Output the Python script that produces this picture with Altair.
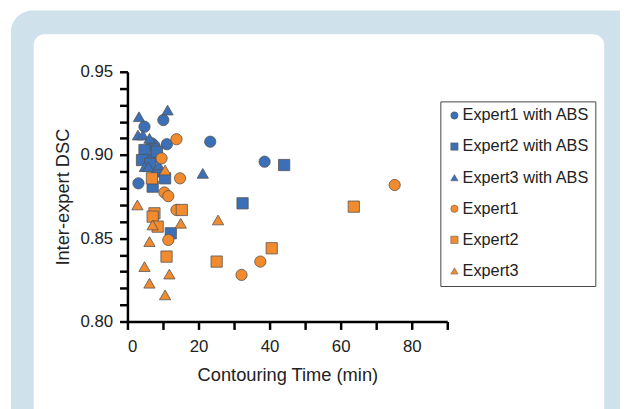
import altair as alt
import pandas as pd

series_names = ["Expert1 with ABS", "Expert2 with ABS", "Expert3 with ABS",
                "Expert1", "Expert2", "Expert3"]
series_colors = ["#3b6fb6", "#3b6fb6", "#3b6fb6", "#f28a2e", "#f28a2e", "#f28a2e"]
series_shapes = ["circle", "square", "triangle-up", "circle", "square", "triangle-up"]

e1abs_time = [23.3, 38.6, 10.1, 4.8, 6.9, 7.6, 7.9, 11.1, 7.1, 8.3, 3.1]
e1abs_dsc = [0.908, 0.896, 0.921, 0.917, 0.907, 0.9055, 0.9035, 0.9065, 0.898, 0.890, 0.883]
e2abs_time = [44.1, 32.4, 4.8, 8.3, 4.1, 6.4, 10.6, 7.1, 12.2]
e2abs_dsc = [0.894, 0.871, 0.903, 0.902, 0.897, 0.8947, 0.886, 0.881, 0.853]
e3abs_time = [11.3, 3.25, 2.96, 4.36, 6.2, 21.2, 4.9, 5.9, 8.8]
e3abs_dsc = [0.927, 0.923, 0.912, 0.912, 0.910, 0.889, 0.893, 0.893, 0.894]
e1_time = [75.2, 37.4, 32.1, 13.8, 9.6, 14.8, 10.4, 11.5, 13.8, 11.5]
e1_dsc = [0.882, 0.836, 0.828, 0.9095, 0.898, 0.886, 0.8775, 0.8753, 0.867, 0.849]
e2_time = [63.7, 40.6, 25.1, 6.9, 7.6, 7.1, 15.3, 8.5, 11.0]
e2_dsc = [0.869, 0.844, 0.836, 0.886, 0.865, 0.863, 0.867, 0.857, 0.839]
e3_time = [25.5, 2.8, 10.6, 7.1, 15.0, 6.2, 4.8, 11.8, 6.2, 10.6]
e3_dsc = [0.861, 0.870, 0.891, 0.858, 0.859, 0.848, 0.833, 0.8285, 0.823, 0.816]

x_ticks = [0, 10, 20, 30, 40, 50, 60, 70, 80, 90]
y_ticks = [round(0.80 + 0.01 * i, 2) for i in range(16)]

all_series = [
    (e1abs_time, e1abs_dsc), (e2abs_time, e2abs_dsc), (e3abs_time, e3abs_dsc),
    (e1_time, e1_dsc), (e2_time, e2_dsc), (e3_time, e3_dsc),
]
rows = []
for name, (ts, ds) in zip(series_names, all_series):
    for t, d in zip(ts, ds):
        rows.append({"series": name, "time": t, "dsc": d})
df = pd.DataFrame(rows)

FONT = "Liberation Sans"
one = pd.DataFrame({"a": [0]})

outer = alt.Chart(one).mark_rect(color="#cfe1eb", cornerRadius=22).encode(
    x=alt.value(-118), x2=alt.value(540), y=alt.value(-62), y2=alt.value(380))
inner = alt.Chart(one).mark_rect(color="#ffffff", cornerRadius=11).encode(
    x=alt.value(-95), x2=alt.value(483), y=alt.value(-38), y2=alt.value(380))

points = alt.Chart(df).mark_point(filled=True, opacity=1, size=130,
                                  stroke="#555555", strokeWidth=0.8).encode(
    x=alt.X("time:Q", title="Contouring Time (min)",
            scale=alt.Scale(domain=[0, 90], nice=False, zero=False),
            axis=alt.Axis(values=x_ticks, zindex=1,
                          labelExpr="(datum.value % 20 == 0 && datum.value < 90) ? datum.label : ''",
                          labelPadding=9, titlePadding=12)),
    y=alt.Y("dsc:Q", title="Inter-expert DSC",
            scale=alt.Scale(domain=[0.80, 0.95], nice=False, zero=False),
            axis=alt.Axis(values=y_ticks, zindex=1,
                          labelExpr="(round(datum.value * 100) % 5 == 0) ? format(datum.value, '.2f') : ''",
                          labelPadding=7, titlePadding=8)),
    color=alt.Color("series:N", sort=series_names, title=None,
                    scale=alt.Scale(domain=series_names, range=series_colors)),
    shape=alt.Shape("series:N", sort=series_names, title=None,
                    scale=alt.Scale(domain=series_names, range=series_shapes)),
)

chart = alt.layer(outer, inner, points).properties(
    width=324, height=253,
    padding={"left": 121, "top": 62, "right": 175, "bottom": 86},
    autosize=alt.AutoSizeParams(type="none"),
    background="white",
).configure_view(stroke=None).configure_axis(
    grid=False, domainColor="black", domainWidth=2.5, tickColor="black",
    tickWidth=2.5, tickSize=8, labelFont=FONT, labelFontSize=17,
    labelColor="#222222", titleFont=FONT, titleFontSize=18.5,
    titleFontWeight="normal", titleColor="#222222",
).configure_legend(
    orient="none", legendX=317, legendY=30, padding=6,
    strokeColor="#444444", strokeWidth=1, fillColor="white",
    labelFont=FONT, labelFontSize=16.5, labelColor="#222222",
    symbolSize=55, rowPadding=14.5, labelOffset=0, symbolStrokeWidth=0.5,
)

chart.save("out.html", embed_options={"renderer": "svg", "actions": False})
